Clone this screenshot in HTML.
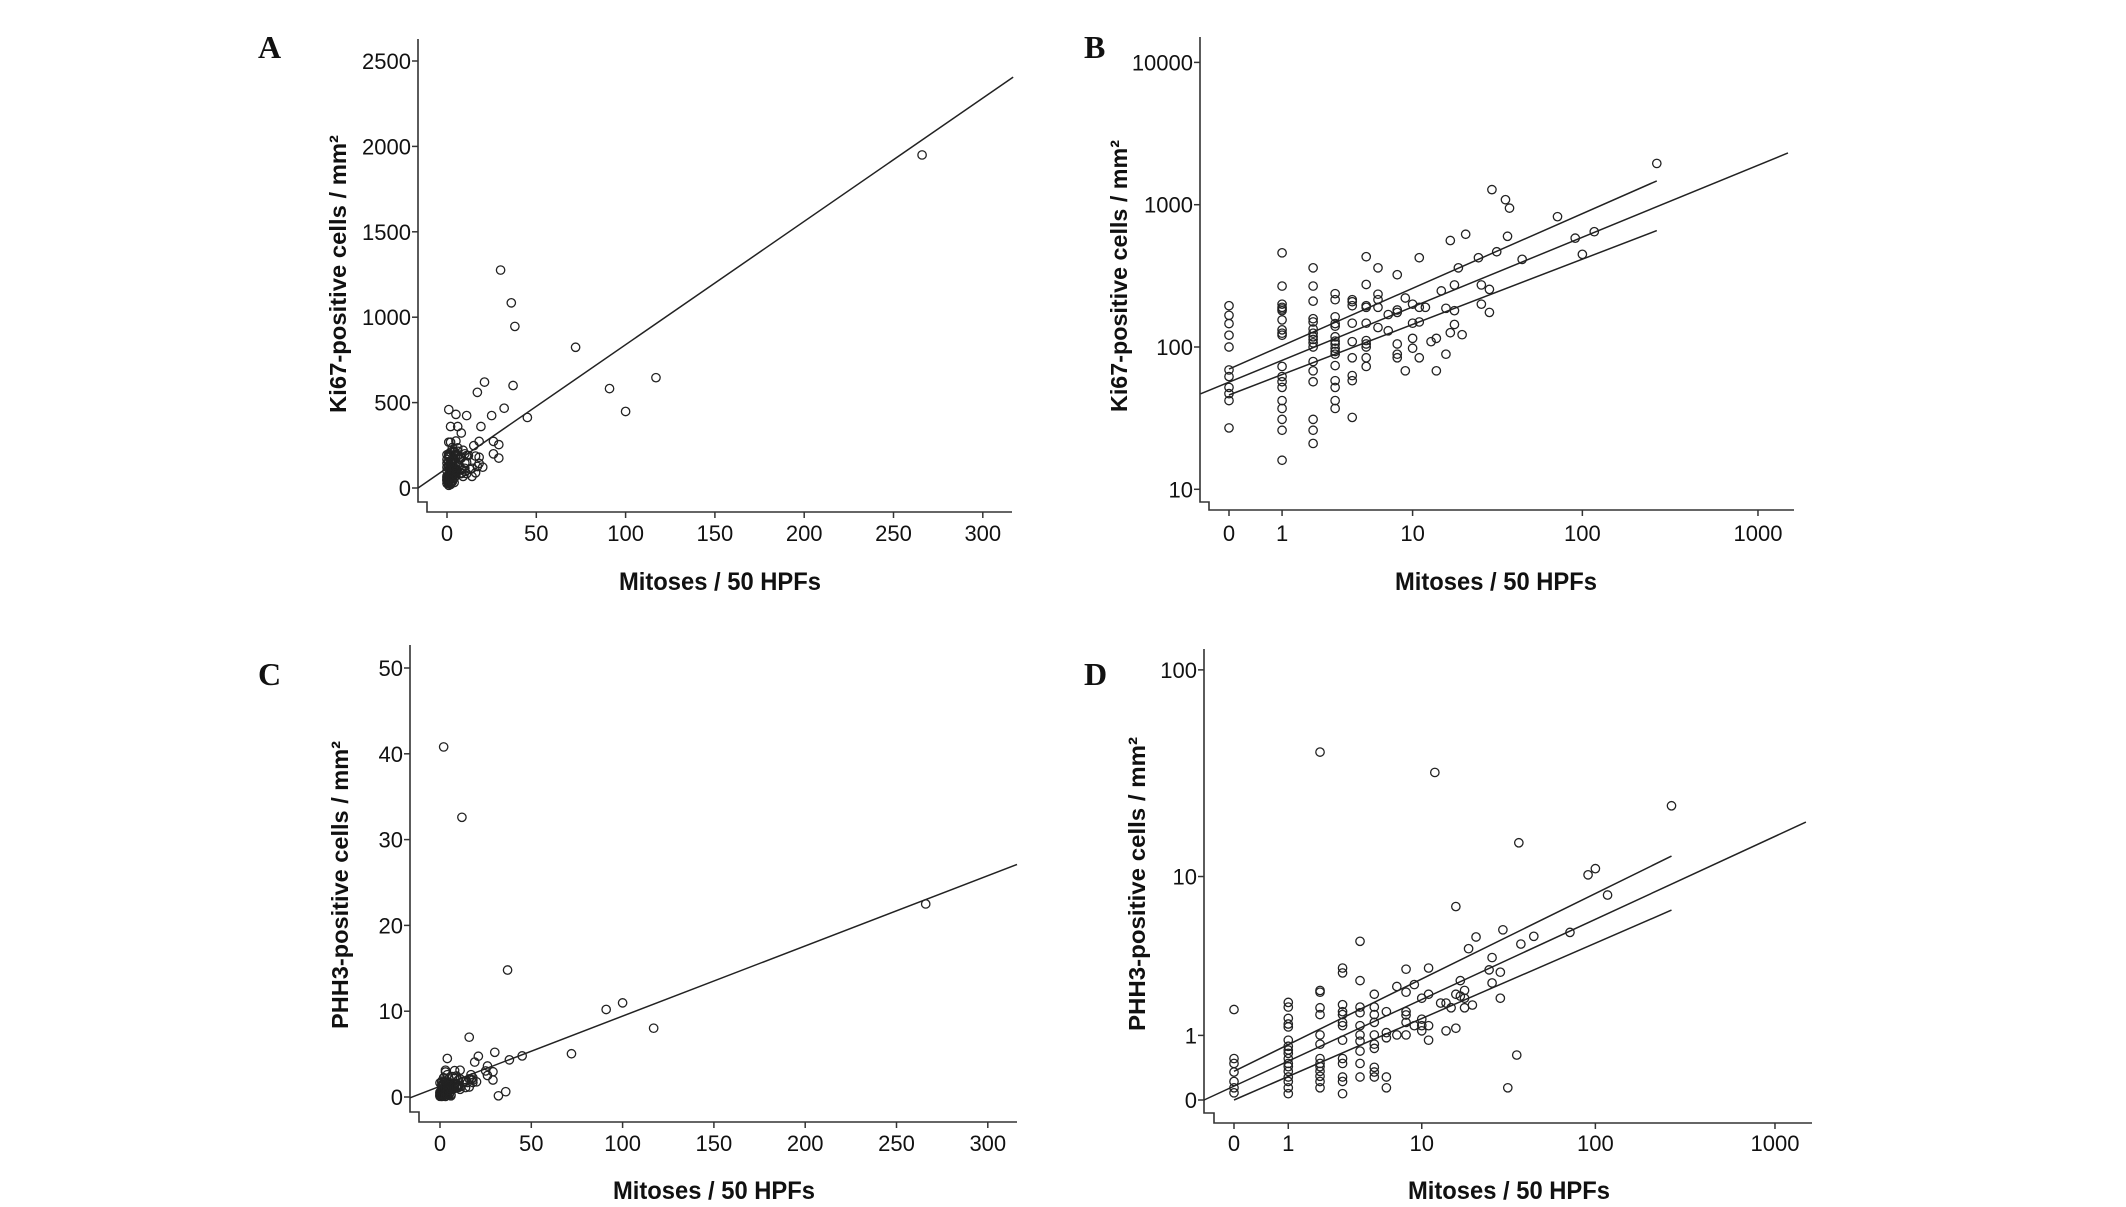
<!DOCTYPE html>
<html><head><meta charset="utf-8"><style>
html,body{margin:0;padding:0;background:#fff;}
svg{display:block;}
.tk{font-family:"Liberation Sans Narrow","Liberation Sans",sans-serif;font-size:22px;fill:#111;}
.ax{font-family:"Liberation Sans Narrow","Liberation Sans",sans-serif;font-weight:bold;font-size:25px;fill:#111;}
.yl{font-family:"Liberation Sans",sans-serif;font-weight:bold;font-size:23px;fill:#111;}
.pl{font-family:"Liberation Serif",serif;font-weight:bold;font-size:32px;fill:#111;}
</style></head><body>
<svg id="fig" width="2126" height="1207" viewBox="0 0 2126 1207" xmlns="http://www.w3.org/2000/svg"></svg>
<script>
// Ki67 dataset (mitoses per 50 HPFs, Ki67-positive cells / mm²)
const ki67Mitoses = [0,0,0,0,0,0,0,0,0,0,0,
1,1,1,1,1,1,1,1,1,1,1,1,1,1,1,1,1,1,1,
2,2,2,2,2,2,2,2,2,2,2,2,2,2,2,2,2,
3,3,3,3,3,3,3,3,3,3,3,3,3,3,3,3,
4,4,4,4,4,4,4,4,4,
5,5,5,5,5,5,5,5,5,5,
6,6,6,6,6,7,7,8,8,8,8,8,8,9,9,10,10,10,10,11,11,11,11,12,13,14,14,15,16,16,17,17,18,18,18,19,20,21,25,26,26,29,29,30,32,36,37,38,45,72,91,100,117,266];
const ki67Values = [195,167,146,121,100,69,62,52,47,42,27,
459,268,200,190,185,180,155,132,125,121,73,62,57,52,42,37,31,26,16,
360,268,210,158,150,134,125,118,113,107,100,79,68,57,31,26,21,
237,215,163,146,140,118,110,105,98,93,89,74,58,52,42,37,
215,208,195,147,109,84,63,58,32,
431,275,195,190,147,111,105,100,84,73,
360,235,215,190,137,169,130,322,182,175,105,89,84,221,68,200,147,115,98,424,190,150,84,190,109,115,68,248,187,89,560,126,273,180,144,360,122,620,424,273,200,254,175,1276,467,1084,600,946,413,824,582,448,646,1950];
// PHH3 dataset (mitoses per 50 HPFs, PHH3-positive cells / mm²)
const phh3Mitoses = [0,0,0,0,0,0,0,
1,1,1,1,1,1,1,1,1,1,1,1,1,1,1,1,1,
2,2,2,2,2,2,2,2,2,2,2,2,2,2,
3,3,3,3,3,3,3,3,3,3,3,3,3,
4,4,4,4,4,4,4,4,4,4,
5,5,5,5,5,5,5,5,5,5,
6,6,6,6,6,7,7,8,8,8,8,8,8,9,9,10,10,10,10,11,11,11,11,12,13,14,14,15,16,16,16,17,17,18,18,18,19,20,21,25,26,26,29,29,30,32,36,37,38,45,72,91,100,117,266];
const phh3Values = [1.64,0.56,0.48,0.35,0.22,0.14,0.08,
1.85,1.71,1.40,1.26,1.19,0.90,0.78,0.71,0.65,0.56,0.48,0.43,0.36,0.28,0.22,0.14,0.07,
40.8,2.24,2.18,1.69,1.50,1.01,0.82,0.56,0.48,0.43,0.36,0.29,0.22,0.14,
3.12,2.91,1.78,1.58,1.50,1.30,1.22,0.90,0.56,0.48,0.28,0.22,0.07,
4.49,2.60,1.71,1.55,1.22,1.01,0.88,0.69,0.48,0.28,
2.11,1.71,1.50,1.30,1.01,0.82,0.74,0.42,0.35,0.28,
1.58,1.06,0.95,0.28,0.14,2.38,1.01,3.07,2.18,1.58,1.49,1.30,1.01,2.45,1.22,1.98,1.38,1.22,1.10,3.12,2.11,1.22,0.90,32.6,1.83,1.83,1.10,1.69,6.97,2.11,1.16,2.60,2.05,2.24,1.98,1.69,4.07,1.77,4.75,3.04,3.61,2.51,2.94,1.98,5.21,0.14,0.62,14.8,4.33,4.79,5.04,10.2,10.97,8.02,22.5];
// fits: [intercept, slope]
const fitA = [117, 7.22];
const fitB = [1.753, 0.508];   // log10(Ki67) vs log10(mitoses+1)
const fitC = [1.25, 0.0818];
const fitD = [0.0644, 0.388];  // log10(PHH3+1) vs log10(mitoses+1)
const ciRangeMitoses = [0, 266];
const ciUpperB = [70, 1470];
const ciLowerB = [46, 658];
const ciUpperD = [0.36, 12.7];
const ciLowerD = [0, 6.67];
const linXTicks = [0,50,100,150,200,250,300];
const logXTicks = [0,1,10,100,1000];
const yTicksA = [0,500,1000,1500,2000,2500];
const yTicksB = [10,100,1000,10000];
const yTicksC = [0,10,20,30,40,50];
const yTicksD = [0,1,10,100];

const NS="http://www.w3.org/2000/svg";
const svg=document.getElementById('fig');
function mk(tag,attrs,parent){const e=document.createElementNS(NS,tag);for(const k in attrs)e.setAttribute(k,attrs[k]);(parent||svg).appendChild(e);return e;}

const panels=[
 {id:'a',letter:'A',lx:258,ly:58,sx:m=>447+m*89.3/50,sy:v=>488-v*85.4/500,ax:418,top:39,notch:502,xy:512,xs:427,xe:1012,xt:linXTicks,yt:yTicksA,tickBase:541,ylab:'Ki67-positive cells / mm²',ylx:338,yly:274,yll:278,xlx:720,xly:590,mx:ki67Mitoses,vals:ki67Values,type:'lin',fit:fitA,fx:[-16.2,317]},
 {id:'b',letter:'B',lx:1084,ly:58,sx:m=>1229+Math.log10(m+1)*176.3,sy:v=>347-(Math.log10(v)-2)*142.3,ax:1200,top:37,notch:502,xy:510,xs:1209,xe:1794,xt:logXTicks,yt:yTicksB,tickBase:541,ylab:'Ki67-positive cells / mm²',ylx:1119,yly:276,yll:272,xlx:1496,xly:590,mx:ki67Mitoses,vals:ki67Values,type:'logB',fit:fitB,fx:[-0.31,1480],ciU:ciUpperB,ciL:ciLowerB},
 {id:'c',letter:'C',lx:258,ly:685,sx:m=>440+m*91.3/50,sy:v=>1097-v*8.58,ax:410,top:645,notch:1112,xy:1122,xs:419,xe:1017,xt:linXTicks,yt:yTicksC,tickBase:1151,ylab:'PHH3-positive cells / mm²',ylx:340,yly:885,yll:288,xlx:714,xly:1199,mx:phh3Mitoses,vals:phh3Values,type:'lin',fit:fitC,fx:[-16.4,316]},
 {id:'d',letter:'D',lx:1084,ly:685,sx:m=>1234+Math.log10(m+1)*180.3,sy:v=>1100-Math.log10(v+1)*214.6,ax:1204,top:649,notch:1113,xy:1123,xs:1214,xe:1812,xt:logXTicks,yt:yTicksD,tickBase:1151,ylab:'PHH3-positive cells / mm²',ylx:1137,yly:884,yll:294,xlx:1509,xly:1199,mx:phh3Mitoses,vals:phh3Values,type:'logD',fit:fitD,fx:[-0.32,1485],ciU:ciUpperD,ciL:ciLowerD}
];

panels.forEach(p=>{
 const g=mk('g',{});
 
 
 const lt=mk('text',{x:p.lx,y:p.ly,class:'pl'},g);lt.textContent=p.letter;
 
 
 const axis=mk('path',{d:`M${p.ax},${p.top}V${p.notch}H${p.xs}V${p.xy}H${p.xe}`,fill:'none',stroke:'#333','stroke-width':1.6},g);
 
 
 p.yt.forEach(t=>{
  const y=p.sy(t);
  const tl=mk('line',{x1:p.ax-6,x2:p.ax,y1:y,y2:y,stroke:'#333','stroke-width':1.5},g);
  
  
  const tx=mk('text',{x:p.ax-7,y:y+8,class:'tk','text-anchor':'end'},g);tx.textContent=t;
  
  
 });
 p.xt.forEach(t=>{
  const x=p.sx(t);
  const tl=mk('line',{x1:x,x2:x,y1:p.xy,y2:p.xy+6,stroke:'#333','stroke-width':1.5},g);
  
  
  const tx=mk('text',{x:x,y:p.tickBase,class:'tk','text-anchor':'middle'},g);tx.textContent=t;
  
  
 });
 const yl=mk('text',{x:0,y:0,class:'yl','text-anchor':'middle',transform:`translate(${p.ylx+8},${p.yly}) rotate(-90)`,textLength:p.yll,lengthAdjust:'spacingAndGlyphs'},g);
 yl.textContent=p.ylab;
 
 
 const xl=mk('text',{x:p.xlx,y:p.xly,class:'ax','text-anchor':'middle',textLength:202,lengthAdjust:'spacingAndGlyphs'},g);
 xl.textContent='Mitoses / 50 HPFs';
 
 
 let fy;
 if(p.type==='lin') fy=m=>p.fit[0]+p.fit[1]*m;
 else if(p.type==='logB') fy=m=>Math.pow(10,p.fit[0]+p.fit[1]*Math.log10(m+1));
 else fy=m=>Math.pow(10,p.fit[0]+p.fit[1]*Math.log10(m+1))-1;
 const fl=mk('line',{x1:p.sx(p.fx[0]),y1:p.sy(fy(p.fx[0])),x2:p.sx(p.fx[1]),y2:p.sy(fy(p.fx[1])),stroke:'#222','stroke-width':1.5},g);
 
 
 if(p.ciU){
  [p.ciU,p.ciL].forEach((c,i)=>{
   const cl=mk('line',{x1:p.sx(ciRangeMitoses[0]),y1:p.sy(c[0]),x2:p.sx(ciRangeMitoses[1]),y2:p.sy(c[1]),stroke:'#222','stroke-width':1.5},g);
   
   
  });
 }
 p.mx.forEach((m,i)=>{
  const c=mk('circle',{cx:p.sx(m),cy:p.sy(p.vals[i]),r:4.2,fill:'none',stroke:'#222','stroke-width':1.3},g);
  
  
 });
});
</script>
</body></html>
